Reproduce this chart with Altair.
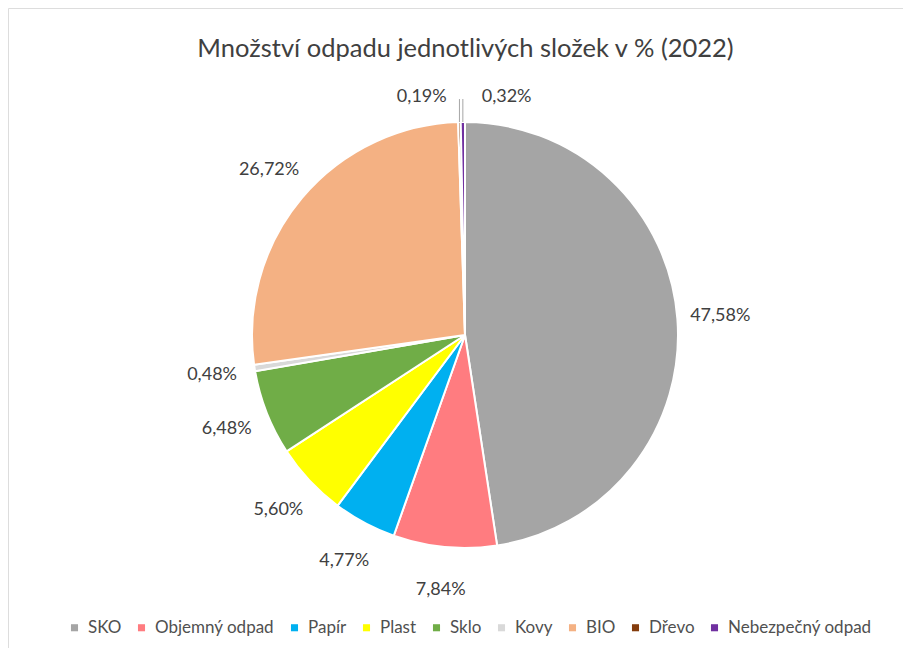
import altair as alt
import pandas as pd

categories = ["SKO", "Objemný odpad", "Papír", "Plast", "Sklo", "Kovy", "BIO", "Dřevo", "Nebezpečný odpad"]
values = [47.58, 7.84, 4.77, 5.60, 6.48, 0.48, 26.72, 0.19, 0.32]
labels = ["47,58%", "7,84%", "4,77%", "5,60%", "6,48%", "0,48%", "26,72%", "0,19%", "0,32%"]
colors = ["#A5A5A5", "#FF7C80", "#00B0F0", "#FFFF00", "#70AD47", "#D9D9D9", "#F4B183", "#843C0C", "#7030A0"]

df = pd.DataFrame({"cat": categories, "value": values, "label": labels, "order": list(range(len(categories)))})

W, H = 895, 640
CX, CY = 457, 327
R = 213
FONT = "Lato"
TXT = "#404040"

base = alt.Chart(df).transform_calculate(
    big="datum.value >= 0.4 ? datum.label : ''",
    drevo="datum.cat == 'Dřevo' ? datum.label : ''",
    nebez="datum.cat == 'Nebezpečný odpad' ? datum.label : ''",
).encode(
    theta=alt.Theta("value:Q", stack=True),
    order=alt.Order("order:Q", sort="ascending"),
)

pie = base.mark_arc(outerRadius=R, stroke="white", strokeWidth=2).encode(
    color=alt.Color(
        "cat:N",
        scale=alt.Scale(domain=categories, range=colors),
        sort=categories,
        legend=alt.Legend(
            title=None,
            orient="none",
            direction="horizontal",
            columns=9,
            legendX=58,
            legendY=611,
            symbolType="square",
            symbolSize=50,
            symbolStrokeWidth=0,
            labelFont=FONT,
            labelFontSize=17,
            labelColor="#505050",
            columnPadding=11,
            labelOffset=5,
        ),
    ),
    x=alt.value(CX),
    y=alt.value(CY),
)

big_text = base.mark_text(radius=256, font=FONT, fontSize=18, color=TXT).encode(
    text="big:N", x=alt.value(CX), y=alt.value(CY)
)
drevo_text = base.mark_text(radius=238, dx=-37, font=FONT, fontSize=18, color=TXT).encode(
    text="drevo:N", x=alt.value(CX), y=alt.value(CY)
)
nebez_text = base.mark_text(radius=238, dx=44, font=FONT, fontSize=18, color=TXT).encode(
    text="nebez:N", x=alt.value(CX), y=alt.value(CY)
)

leaders = alt.Chart(df).transform_joinaggregate(
    total="sum(value)"
).transform_window(
    cum="sum(value)", sort=[alt.SortField("order", order="ascending")], frame=[None, 0]
).transform_calculate(
    ang="2*PI*(datum.cum - datum.value/2)/datum.total",
).transform_filter(
    "datum.value < 0.4"
).transform_calculate(
    lx1=f"{CX} + {R} * sin(datum.ang)",
    ly1=f"{CY} - {R} * cos(datum.ang)",
    lx2=f"{CX} + {R} * sin(datum.ang)",
    ly2=f"{CY} - 236 * cos(datum.ang)",
).mark_rule(color="#A6A6A6", strokeWidth=1).encode(
    x=alt.X("lx1:Q", scale=None),
    y=alt.Y("ly1:Q", scale=None),
    x2="lx2:Q",
    y2="ly2:Q",
)

chart = alt.layer(pie, leaders, big_text, drevo_text, nebez_text).properties(
    width=W,
    height=H,
    autosize=alt.AutoSizeParams(type="none"),
    padding=0,
    title=alt.TitleParams(
        "Množství odpadu jednotlivých složek v % (2022)",
        font=FONT,
        fontSize=25.5,
        fontWeight="normal",
        color="#404040",
        anchor="middle",
        offset=-54,
        dx=10,
    ),
).configure_view(stroke="#D9D9D9", strokeWidth=1).configure(background="white")

chart.save("out.html", embed_options={"renderer": "svg", "actions": False})
